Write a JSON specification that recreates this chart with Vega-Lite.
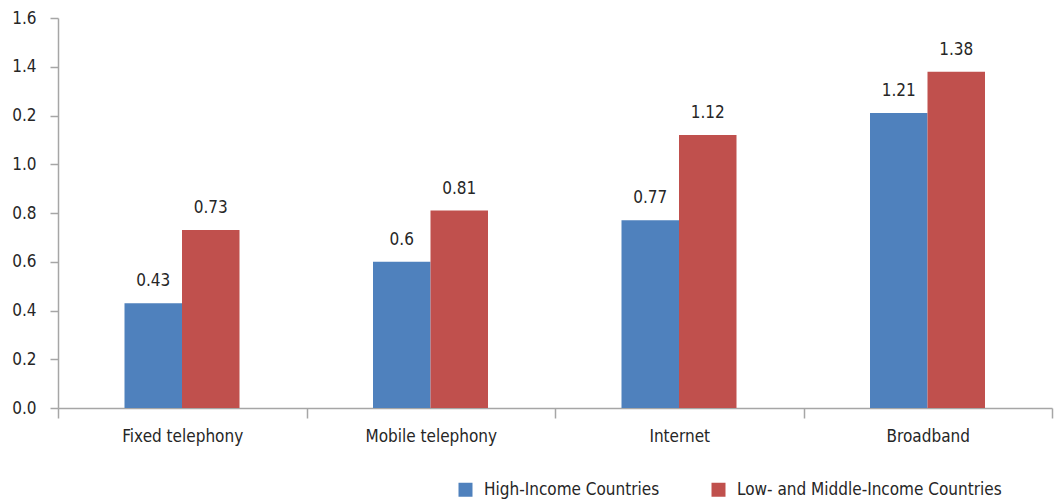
{
  "$schema": "https://vega.github.io/schema/vega-lite/v6.json",
  "width": 994,
  "height": 390,
  "autosize": "none",
  "padding": {"left": 58, "top": 18, "right": 4, "bottom": 92},
  "background": "white",
  "config": {
    "font": "DejaVu Sans Condensed, sans-serif",
    "view": {"stroke": null},
    "axis": {"grid": false, "domainColor": "#A6A6A6", "tickColor": "#A6A6A6", "domainWidth": 1.5, "tickWidth": 1.5, "labelColor": "#262626", "labelFont": "DejaVu Sans Condensed, sans-serif"},
    "legend": {"labelFont": "DejaVu Sans Condensed, sans-serif"}
  },
  "data": {
    "values": [
      {"service": "Fixed telephony", "group": "High-Income Countries", "value": 0.43},
      {"service": "Fixed telephony", "group": "Low- and Middle-Income Countries", "value": 0.73},
      {"service": "Mobile telephony", "group": "High-Income Countries", "value": 0.6},
      {"service": "Mobile telephony", "group": "Low- and Middle-Income Countries", "value": 0.81},
      {"service": "Internet", "group": "High-Income Countries", "value": 0.77},
      {"service": "Internet", "group": "Low- and Middle-Income Countries", "value": 1.12},
      {"service": "Broadband", "group": "High-Income Countries", "value": 1.21},
      {"service": "Broadband", "group": "Low- and Middle-Income Countries", "value": 1.38}
    ]
  },
  "encoding": {
    "x": {
      "field": "service",
      "type": "nominal",
      "sort": ["Fixed telephony", "Mobile telephony", "Internet", "Broadband"],
      "scale": {"paddingInner": 0, "paddingOuter": 0},
      "axis": {"title": null, "labelAngle": 0, "labelFontSize": 17, "tickBand": "extent", "tickSize": 10, "labelPadding": 10}
    },
    "xOffset": {
      "field": "group",
      "type": "nominal",
      "sort": ["High-Income Countries", "Low- and Middle-Income Countries"],
      "scale": {"range": [66.5, 181.5], "paddingInner": 0, "paddingOuter": 0}
    },
    "y": {
      "field": "value",
      "type": "quantitative",
      "scale": {"domain": [0, 1.6], "nice": false},
      "axis": {
        "title": null,
        "values": [0, 0.2, 0.4, 0.6, 0.8, 1.0, 1.2, 1.4, 1.6],
        "labelExpr": "datum.value === 1.2 ? '0.2' : format(datum.value, '.1f')",
        "labelFontSize": 17,
        "tickSize": 8,
        "labelPadding": 14
      }
    }
  },
  "layer": [
    {
      "mark": {"type": "bar"},
      "encoding": {
        "color": {
          "field": "group",
          "type": "nominal",
          "sort": ["High-Income Countries", "Low- and Middle-Income Countries"],
          "scale": {"range": ["#4F81BD", "#C0504D"]},
          "legend": {
            "title": null,
            "orient": "none",
            "direction": "horizontal",
            "legendX": 399,
            "legendY": 463,
            "symbolType": "square",
            "symbolSize": 196,
            "symbolStrokeWidth": 0,
            "labelFontSize": 17,
            "labelColor": "#262626",
            "labelOffset": 10,
            "labelLimit": 0,
            "columnPadding": 50,
            "padding": 0
          }
        }
      }
    },
    {
      "mark": {"type": "text", "baseline": "alphabetic", "dy": -17, "fontSize": 17, "color": "#262626"},
      "encoding": {
        "text": {"field": "value", "type": "quantitative"}
      }
    }
  ]
}
